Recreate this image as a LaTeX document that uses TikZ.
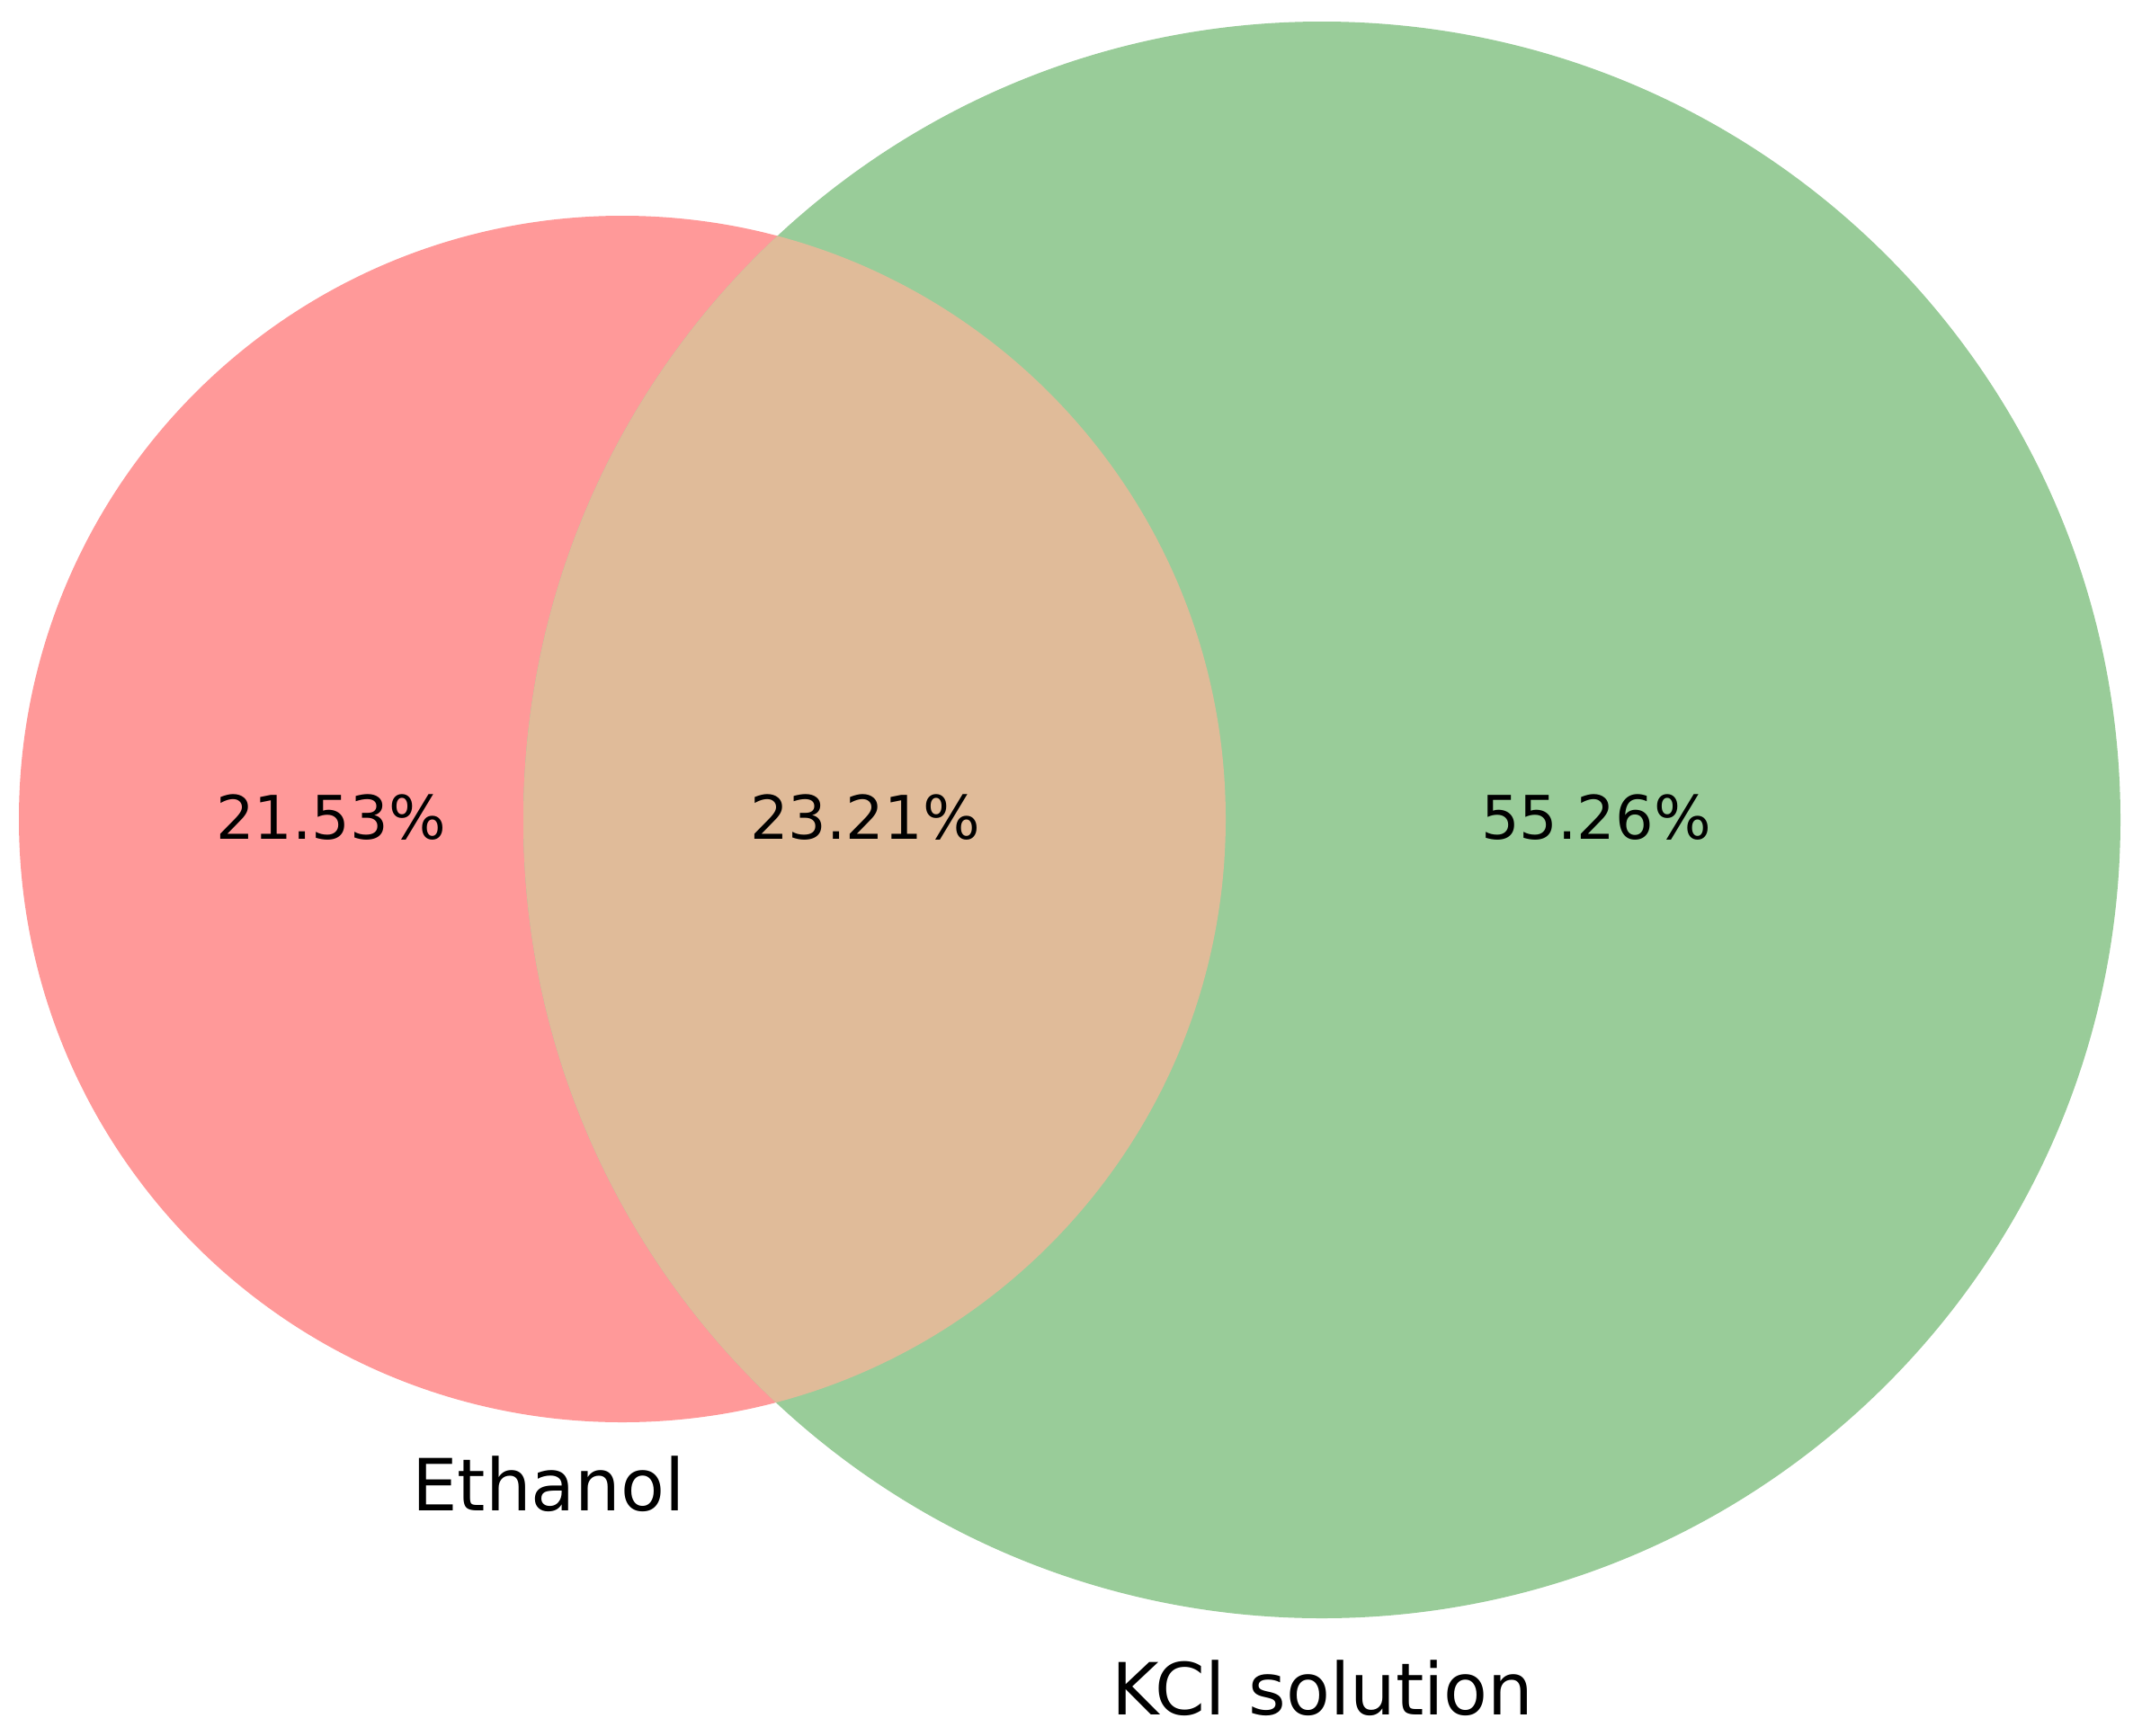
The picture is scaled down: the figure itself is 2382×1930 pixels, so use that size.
\documentclass[tikz,border=0pt]{standalone}
\usepackage{fontspec}
\setmainfont{DejaVu Sans}
\definecolor{setA}{HTML}{FF9999}
\definecolor{setB}{HTML}{99CC99}
\definecolor{setAB}{HTML}{E0BB99}
\begin{document}
\begin{tikzpicture}[x=1pt,y=-1pt,
  pct/.style={anchor=base,inner sep=0pt,font=\fontsize{67}{80}\selectfont},
  lbl/.style={anchor=base,inner sep=0pt,font=\fontsize{80}{96}\selectfont}]
\useasboundingbox (0,0) rectangle (2382,1930);
\fill[white] (0,0) rectangle (2382,1930);
\coordinate (cA) at (692,911);
\coordinate (cB) at (1470,912);
\fill[setA] (cA) circle[radius=671];
\fill[setB] (cB) circle[radius=888];
\begin{scope}
\clip (cA) circle[radius=671];
\fill[setAB] (cB) circle[radius=888];
\end{scope}
\node[pct] (a) at (368,933) {21.53\%};
\node[pct] (ab) at (962,933) {23.21\%};
\node[pct] (b) at (1775,933) {55.26\%};
\node[lbl] (la) at (610,1680) {Ethanol};
\node[lbl] (lb) at (1471,1907) {KCl solution};
\end{tikzpicture}
\end{document}
